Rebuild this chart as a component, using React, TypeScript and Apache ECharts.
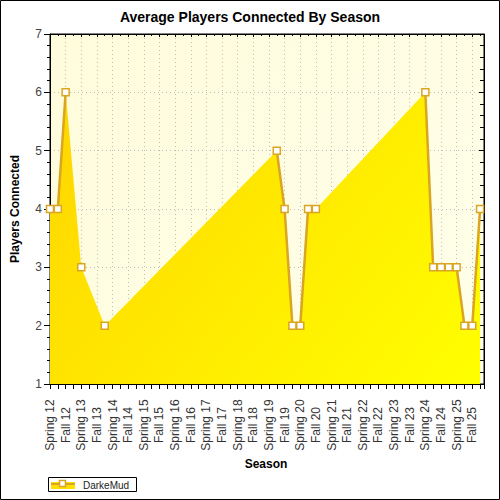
import React, { useEffect, useRef } from "react";
import * as echarts from "echarts";

const seasonLabels = [
  "Spring 12", "Fall 12", "Spring 13", "Fall 13", "Spring 14", "Fall 14",
  "Spring 15", "Fall 15", "Spring 16", "Fall 16", "Spring 17", "Fall 17",
  "Spring 18", "Fall 18", "Spring 19", "Fall 19", "Spring 20", "Fall 20",
  "Spring 21", "Fall 21", "Spring 22", "Fall 22", "Spring 23", "Fall 23",
  "Spring 24", "Fall 24", "Spring 25", "Fall 25",
];
// position of each sample in quarter-season steps from Spring 12
const quarterIndex = [0, 1, 2, 4, 7, 29, 30, 31, 32, 33, 34, 48, 49, 50, 51, 52, 53, 54, 55];
const players = [4, 4, 6, 3, 2, 5, 4, 2, 2, 4, 4, 6, 3, 3, 3, 3, 2, 2, 4];
const seriesName = "DarkeMud";
const chartTitle = "Average Players Connected By Season";
const xTitle = "Season";
const yTitle = "Players Connected";

const FONT = "'Liberation Sans', Arial, sans-serif";
const LINE = "#DAA520";

export default function App() {
  const ref = useRef<HTMLDivElement>(null);
  useEffect(() => {
    if (!ref.current) return;
    const chart = echarts.init(ref.current, undefined, { renderer: "svg" });

    const areaData = quarterIndex.map((q, i) => [q, players[i]]);
    const lineData: any[] = [];
    quarterIndex.forEach((q, i) => {
      if (i > 0 && q - quarterIndex[i - 1] > 1) lineData.push([(q + quarterIndex[i - 1]) / 2, "-"]);
      lineData.push([q, players[i]]);
    });

    const L = 50, T = 34, R = 484, B = 384;
    const xMax = 55.5;

    const xLabelFmt = (v: number) =>
      Number.isInteger(v) && v % 2 === 0 && seasonLabels[v / 2] ? seasonLabels[v / 2] : "";

    const option: any = {
      animation: false,
      backgroundColor: "#ffffff",
      grid: {
        left: L, top: T, right: 500 - R, bottom: 500 - B,
        show: true,
        backgroundColor: {
          type: "linear", x: L, y: T, x2: R, y2: B, global: true,
          colorStops: [
            { offset: 0, color: "#FFFCDC" },
            { offset: 1, color: "#FFFFEA" },
          ],
        },
        borderColor: "#000", borderWidth: 1,
      },
      xAxis: [
        {
          type: "value", min: 0, max: xMax, interval: 2, position: "bottom",
          axisLine: { show: true, onZero: false, lineStyle: { color: "#000", width: 1 } },
          axisTick: { show: true, length: 5, lineStyle: { color: "#000" } },
          minorTick: { show: true, splitNumber: 2, length: 5, lineStyle: { color: "#000" } },
          splitLine: { show: true, lineStyle: { color: "#bdbdbd", type: [1, 3], width: 1 } },
          axisLabel: {
            formatter: xLabelFmt, rotate: 90, align: "center", verticalAlign: "middle",
            margin: 41, fontFamily: FONT, fontSize: 12, color: "#333",
            showMinLabel: true, showMaxLabel: true,
          },
        },
        {
          type: "value", min: 0, max: xMax, interval: 2, position: "top",
          axisLine: { show: true, onZero: false, lineStyle: { color: "#000", width: 1 } },
          axisTick: { show: true, inside: true, length: 3, lineStyle: { color: "#000" } },
          minorTick: { show: true, splitNumber: 2, length: 2, lineStyle: { color: "#000" } },
          splitLine: { show: false },
          axisLabel: { show: false },
        },
      ],
      yAxis: [
        {
          type: "value", min: 1, max: 7, interval: 1, position: "left",
          axisLine: { show: true, onZero: false, lineStyle: { color: "#000", width: 1 } },
          axisTick: { show: true, length: 6, lineStyle: { color: "#000" } },
          minorTick: { show: true, splitNumber: 5, length: 3, lineStyle: { color: "#000" } },
          splitLine: { show: true, lineStyle: { color: "#bdbdbd", type: [1, 3], width: 1 } },
          axisLabel: { margin: 8, fontFamily: FONT, fontSize: 12, color: "#444" },
        },
        {
          type: "value", min: 1, max: 7, interval: 1, position: "right",
          axisLine: { show: true, onZero: false, lineStyle: { color: "#000", width: 1 } },
          axisTick: { show: true, inside: true, length: 5, lineStyle: { color: "#000" } },
          minorTick: { show: true, splitNumber: 5, length: 4, lineStyle: { color: "#000" } },
          splitLine: { show: false },
          axisLabel: { show: false },
        },
      ],
      series: [
        {
          name: seriesName + " area",
          type: "line",
          data: areaData,
          symbol: "none",
          lineStyle: { width: 0, opacity: 0 },
          areaStyle: {
            origin: "start",
            opacity: 1,
            color: {
              type: "linear", x: L, y: T, x2: R, y2: B, global: true,
              colorStops: [
                { offset: 0, color: "#FFD200" },
                { offset: 1, color: "#FFFF00" },
              ],
            },
          },
          silent: true,
          z: 2,
        },
        {
          name: seriesName,
          type: "line",
          data: lineData,
          connectNulls: false,
          symbol: "rect",
          symbolSize: 7,
          showSymbol: true,
          showAllSymbol: true,
          lineStyle: { color: LINE, width: 2.5 },
          itemStyle: { color: "#ffffff", borderColor: LINE, borderWidth: 1.5 },
          clip: false,
          z: 3,
        },
      ],
      graphic: [
        {
          type: "rect", shape: { x: 0.5, y: 0.5, width: 499, height: 499 },
          style: { fill: "none", stroke: "#000", lineWidth: 1 }, z: 100, silent: true,
        },
        {
          type: "text", x: 250, y: 17,
          style: { text: chartTitle, font: `bold 14px ${FONT}`, fill: "#000", align: "center", verticalAlign: "middle" },
        },
        {
          type: "text", x: 266, y: 464,
          style: { text: xTitle, font: `bold 12px ${FONT}`, fill: "#000", align: "center", verticalAlign: "middle" },
        },
        {
          type: "text", x: 15, y: 209, rotation: Math.PI / 2,
          style: { text: yTitle, font: `bold 12px ${FONT}`, fill: "#000", align: "center", verticalAlign: "middle" },
        },
        {
          type: "group",
          children: [
            { type: "rect", shape: { x: 48.5, y: 477.5, width: 88, height: 14 }, style: { fill: "#fff", stroke: "#000", lineWidth: 1 } },
            { type: "rect", shape: { x: 51, y: 482, width: 24, height: 7 }, style: { fill: "#FFE000" } },
            { type: "line", shape: { x1: 51, y1: 484, x2: 75, y2: 484 }, style: { stroke: LINE, lineWidth: 2 } },
            { type: "rect", shape: { x: 59.5, y: 480.5, width: 6, height: 6 }, style: { fill: "#fff", stroke: LINE, lineWidth: 1.5 } },
            { type: "text", x: 83, y: 485, style: { text: seriesName, font: `10px ${FONT}`, fill: "#222", verticalAlign: "middle" } },
          ],
        },
      ],
    };

    chart.setOption(option);
    return () => chart.dispose();
  }, []);

  return (
    <div
      ref={ref}
      style={{ position: "fixed", left: 0, top: 0, width: 500, height: 500, background: "#fff" }}
    />
  );
}
